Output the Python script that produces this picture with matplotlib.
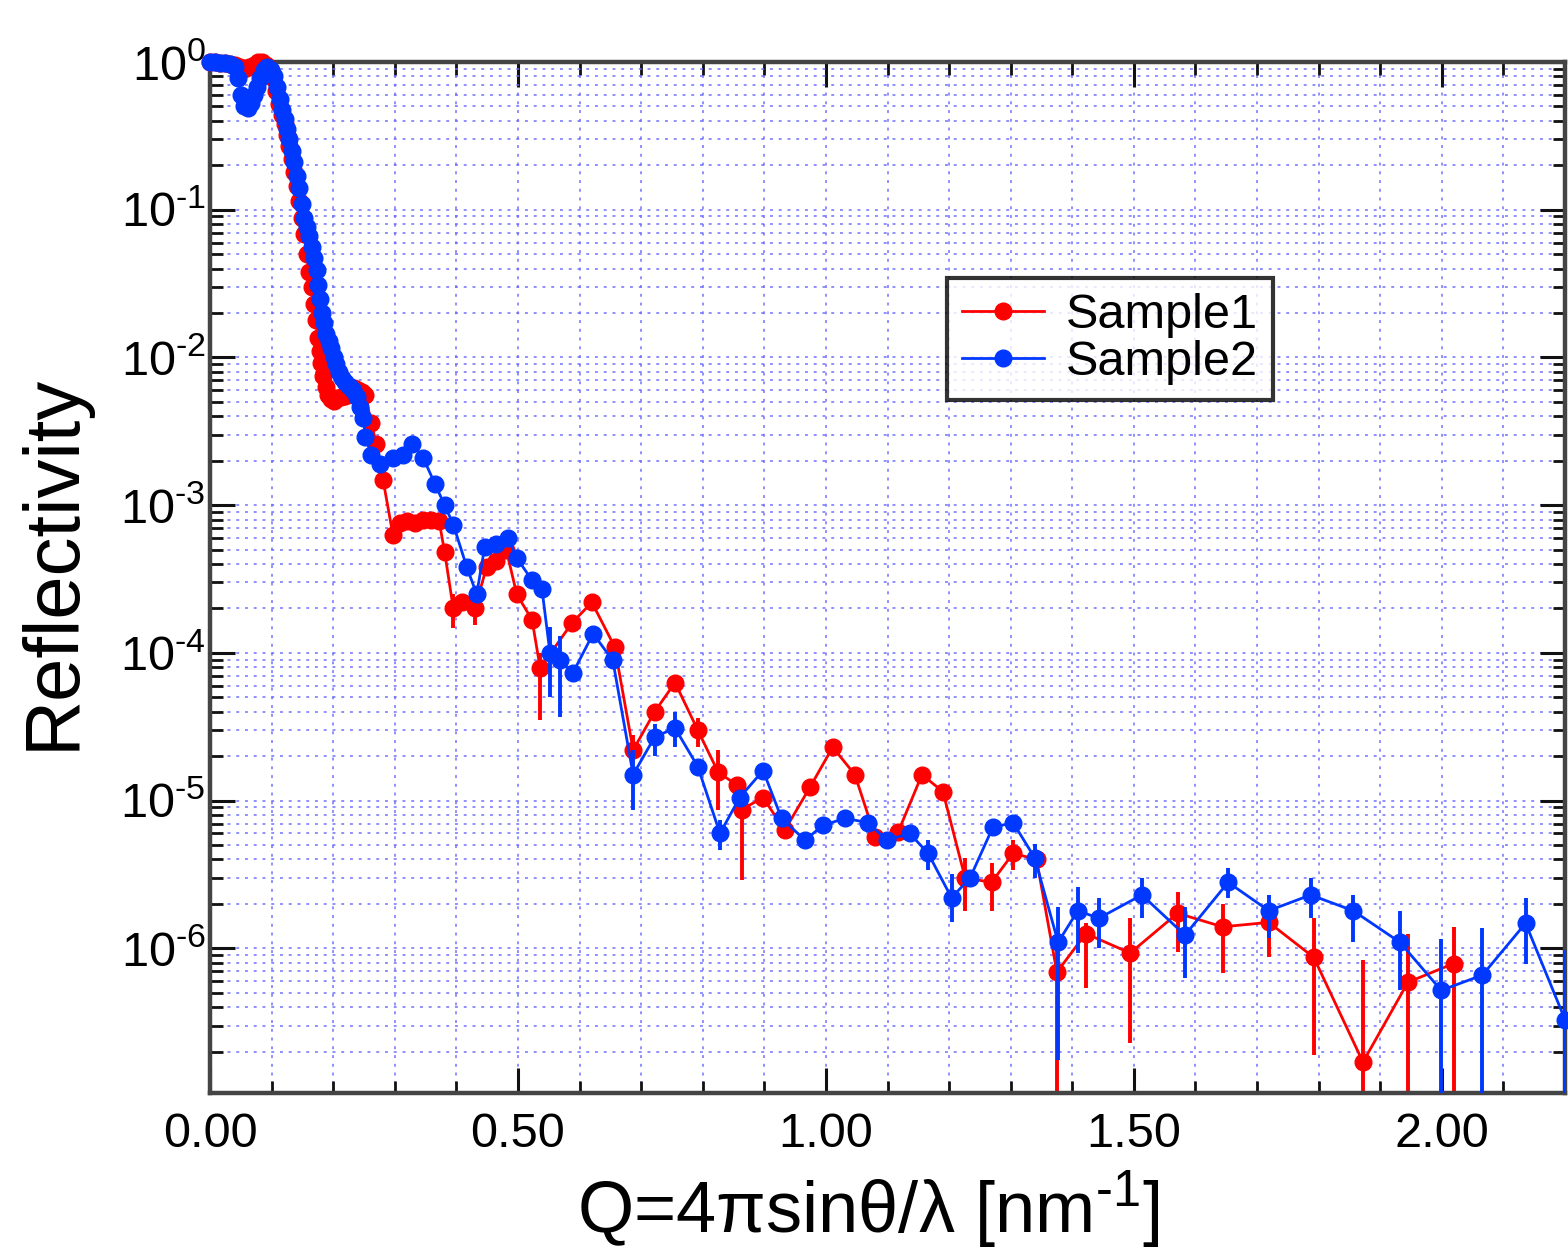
import matplotlib
matplotlib.use("Agg")
import numpy as np
import matplotlib.pyplot as plt
from matplotlib.ticker import MultipleLocator, LogLocator, FuncFormatter, NullFormatter, FormatStrFormatter

plt.rcParams['font.family'] = ['Liberation Sans', 'DejaVu Sans']
plt.rcParams['mathtext.fontset'] = 'custom'
plt.rcParams['mathtext.rm'] = 'Liberation Sans'
plt.rcParams['mathtext.it'] = 'Liberation Sans:italic'
plt.rcParams['mathtext.bf'] = 'Liberation Sans:bold'

# ---- data: Sample1 ----
s1_q = [0.000, 0.008, 0.016, 0.024, 0.032, 0.040, 0.048, 0.056, 0.064, 0.071,
        0.078, 0.085, 0.091, 0.097, 0.102, 0.107, 0.112, 0.117, 0.121, 0.125,
        0.129, 0.133, 0.137, 0.141, 0.145, 0.149, 0.153, 0.157, 0.161, 0.165,
        0.169, 0.172, 0.175, 0.178, 0.181, 0.184, 0.188, 0.192, 0.196, 0.201,
        0.206, 0.212, 0.219, 0.226, 0.233, 0.240, 0.246, 0.252, 0.262, 0.270,
        0.281, 0.297, 0.308, 0.320, 0.333, 0.346, 0.359, 0.372, 0.381, 0.395,
        0.409, 0.430, 0.449, 0.465, 0.481, 0.498, 0.523, 0.536, 0.588, 0.620,
        0.657, 0.687, 0.722, 0.755, 0.792, 0.825, 0.856, 0.863, 0.898, 0.933,
        0.974, 1.011, 1.047, 1.080, 1.117, 1.156, 1.190, 1.226, 1.269, 1.304,
        1.342, 1.375, 1.422, 1.494, 1.571, 1.644, 1.719, 1.792, 1.872, 1.945,
        2.019]
s1_r = [1.0, 1.0, 0.99, 0.98, 0.97, 0.96, 0.93, 0.90, 0.92, 0.96,
        1.0, 1.0, 0.95, 0.88, 0.78, 0.64, 0.52, 0.44, 0.38, 0.32,
        0.27, 0.22, 0.18, 0.145, 0.115, 0.088, 0.068, 0.050, 0.038, 0.030,
        0.023, 0.018, 0.0135, 0.011, 0.0092, 0.0075, 0.0063, 0.0056, 0.0052, 0.0051,
        0.0053, 0.0054, 0.0055, 0.0059, 0.0062, 0.0060, 0.0058, 0.0056, 0.0036, 0.0026,
        1.48e-3, 6.3e-4, 7.6e-4, 7.8e-4, 7.6e-4, 7.9e-4, 8.0e-4, 7.8e-4, 4.8e-4, 2.0e-4,
        2.2e-4, 2.0e-4, 3.8e-4, 4.2e-4, 5.0e-4, 2.5e-4, 1.67e-4, 7.9e-5, 1.6e-4, 2.2e-4,
        1.1e-4, 2.2e-5, 4.0e-5, 6.3e-5, 3.0e-5, 1.56e-5, 1.27e-5, 8.7e-6, 1.05e-5, 6.3e-6,
        1.23e-5, 2.3e-5, 1.5e-5, 5.7e-6, 6.1e-6, 1.5e-5, 1.15e-5, 3.0e-6, 2.8e-6, 4.4e-6,
        4.0e-6, 6.9e-7, 1.26e-6, 9.3e-7, 1.73e-6, 1.4e-6, 1.5e-6, 8.7e-7, 1.7e-7, 5.9e-7,
        7.9e-7]
s1_bar_q = [0.395, 0.430, 0.536, 0.687, 0.792, 0.825, 0.863, 1.226, 1.269, 1.304,
            1.375, 1.422, 1.494, 1.571, 1.644, 1.719, 1.792, 1.872, 1.945, 2.019]
s1_bar_lo = [1.48e-4, 1.55e-4, 3.5e-5, 1.9e-5, 2.3e-5, 8.7e-6, 2.9e-6, 1.8e-6, 1.8e-6, 3.4e-6,
             1e-8, 5.4e-7, 2.3e-7, 9.4e-7, 6.8e-7, 8.7e-7, 1.9e-7, 1e-8, 1e-8, 1e-8]
s1_bar_hi = [2.5e-4, 2.3e-4, 1.0e-4, 2.8e-5, 3.6e-5, 2.2e-5, 1.23e-5, 4.1e-6, 3.8e-6, 5.4e-6,
             1.0e-6, 1.48e-6, 1.6e-6, 2.4e-6, 2.0e-6, 1.6e-6, 1.6e-6, 8.3e-7, 1.26e-6, 1.4e-6]

# ---- data: Sample2 ----
s2_q = [0.000, 0.008, 0.016, 0.024, 0.032, 0.040, 0.046, 0.051, 0.056, 0.061,
        0.066, 0.071, 0.076, 0.081, 0.087, 0.093, 0.099, 0.104, 0.109, 0.113,
        0.117, 0.121, 0.125, 0.129, 0.133, 0.137, 0.141, 0.145, 0.149, 0.153,
        0.157, 0.161, 0.165, 0.169, 0.173, 0.176, 0.179, 0.182, 0.185, 0.189,
        0.193, 0.197, 0.201, 0.205, 0.209, 0.214, 0.219, 0.225, 0.232, 0.238,
        0.244, 0.249, 0.252, 0.262, 0.276, 0.297, 0.313, 0.328, 0.346, 0.365,
        0.381, 0.395, 0.417, 0.433, 0.446, 0.465, 0.484, 0.498, 0.523, 0.539,
        0.552, 0.568, 0.589, 0.622, 0.654, 0.687, 0.722, 0.755, 0.792, 0.828,
        0.860, 0.898, 0.928, 0.966, 0.995, 1.031, 1.068, 1.099, 1.136, 1.166,
        1.204, 1.234, 1.271, 1.304, 1.339, 1.377, 1.409, 1.443, 1.513, 1.583,
        1.653, 1.719, 1.787, 1.856, 1.932, 1.999, 2.066, 2.136, 2.200]
s2_r = [1.0, 1.0, 0.99, 0.98, 0.97, 0.93, 0.78, 0.60, 0.50, 0.49,
        0.53, 0.60, 0.68, 0.78, 0.88, 0.92, 0.88, 0.80, 0.68, 0.56,
        0.47, 0.41, 0.35, 0.30, 0.25, 0.21, 0.17, 0.14, 0.11, 0.088,
        0.076, 0.066, 0.056, 0.047, 0.039, 0.031, 0.025, 0.020, 0.017, 0.0145,
        0.013, 0.0115, 0.010, 0.0090, 0.0080, 0.0073, 0.0068, 0.0064, 0.0060, 0.0054,
        0.0046, 0.0039, 0.0029, 0.0022, 0.0019, 0.0021, 0.0022, 0.0026, 0.0021, 0.0014,
        0.0010, 7.4e-4, 3.8e-4, 2.5e-4, 5.2e-4, 5.5e-4, 6.0e-4, 4.4e-4, 3.1e-4, 2.7e-4,
        1.0e-4, 8.9e-5, 7.3e-5, 1.35e-4, 8.9e-5, 1.5e-5, 2.7e-5, 3.1e-5, 1.7e-5, 6.0e-6,
        1.05e-5, 1.6e-5, 7.6e-6, 5.4e-6, 6.8e-6, 7.6e-6, 7.1e-6, 5.4e-6, 6.0e-6, 4.4e-6,
        2.2e-6, 3.0e-6, 6.6e-6, 7.1e-6, 4.1e-6, 1.1e-6, 1.8e-6, 1.6e-6, 2.3e-6, 1.23e-6,
        2.8e-6, 1.8e-6, 2.3e-6, 1.8e-6, 1.1e-6, 5.2e-7, 6.6e-7, 1.48e-6, 3.3e-7]
s2_bar_q = [0.552, 0.568, 0.687, 0.722, 0.755, 0.828, 1.166, 1.204, 1.339, 1.377,
            1.409, 1.443, 1.513, 1.583, 1.653, 1.719, 1.787, 1.856, 1.932, 1.999,
            2.066, 2.136, 2.200]
s2_bar_lo = [5.0e-5, 3.7e-5, 8.7e-6, 2.0e-5, 2.3e-5, 4.6e-6, 3.4e-6, 1.5e-6, 3.0e-6, 1.75e-7,
             9.3e-7, 1.0e-6, 1.6e-6, 6.3e-7, 2.2e-6, 1.17e-6, 1.6e-6, 1.1e-6, 5.2e-7, 1e-8,
             1e-8, 7.8e-7, 1e-8]
s2_bar_hi = [1.5e-4, 1.3e-4, 2.2e-5, 3.3e-5, 4.0e-5, 7.4e-6, 5.4e-6, 3.2e-6, 5.1e-6, 1.9e-6,
             2.6e-6, 2.2e-6, 3.0e-6, 1.9e-6, 3.5e-6, 2.3e-6, 3.0e-6, 2.3e-6, 1.8e-6, 1.15e-6,
             1.38e-6, 2.2e-6, 9.8e-7]

x_ticks = [0.0, 0.5, 1.0, 1.5, 2.0]
labels = ["Sample1", "Sample2"]

RED = "#ff0000"
BLUE = "#0038ff"

fig = plt.figure(figsize=(15.68, 12.47), dpi=100)
ax = fig.add_axes([210 / 1568, 1 - 1093 / 1247, (1565 - 210) / 1568, (1093 - 62) / 1247])

ax.set_yscale("log")
ax.set_xlim(0.0, 2.2)
ax.set_ylim(1.05e-7, 1.0)

# grid (dotted, light blue)
ax.grid(True, which="both", axis="both", color="#6a6aff", alpha=0.75,
        linestyle=(0, (1.5, 3.0)), linewidth=1.4, zorder=0)

# error bars
ax.vlines(s1_bar_q, s1_bar_lo, s1_bar_hi, colors=RED, linewidth=2.8, zorder=2)
ax.vlines(s2_bar_q, s2_bar_lo, s2_bar_hi, colors=BLUE, linewidth=2.8, zorder=4)

l1, = ax.plot(s1_q, s1_r, "-o", color=RED, lw=2.0, ms=12, mec=RED,
              label=labels[0], zorder=3, clip_on=False)
l2, = ax.plot(s2_q, s2_r, "-o", color=BLUE, lw=2.0, ms=12, mec=BLUE,
              label=labels[1], zorder=5, clip_on=False)


def decade_label(v, pos):
    e = int(round(np.log10(v)))
    return "10$^{\\mathregular{%s}}$" % str(e).replace("-", "\u2010")


# axes, ticks
ax.xaxis.set_major_locator(MultipleLocator(0.5))
ax.xaxis.set_minor_locator(MultipleLocator(0.1))
ax.xaxis.set_major_formatter(FormatStrFormatter("%.2f"))
ax.set_xticks(x_ticks)
ax.yaxis.set_major_locator(LogLocator(base=10, numticks=20))
ax.yaxis.set_minor_locator(LogLocator(base=10, subs=range(2, 10), numticks=20))
ax.yaxis.set_major_formatter(FuncFormatter(decade_label))
ax.yaxis.set_minor_formatter(NullFormatter())

ax.tick_params(which="both", direction="in", top=True, right=True, color="#111111")
ax.tick_params(which="major", length=18, width=2.2, labelsize=35)
ax.tick_params(which="minor", length=9, width=2.0)
ax.tick_params(axis="x", which="major", pad=14)
ax.tick_params(axis="y", which="major", pad=3)

for sp in ax.spines.values():
    sp.set_color("#444444")
    sp.set_linewidth(3.2)

fig.text(0.034, 1 - 562 / 1247, "Reflectivity", rotation=90, fontsize=56,
         ha="center", va="center")
fig.text(868 / 1568, 1 - 1233 / 1247, "Q=4\u03c0sin\u03b8/\u03bb [nm$^{\\mathregular{\u20101}}$]",
         fontsize=52, ha="center", va="baseline")

leg = ax.legend(handles=[l1, l2], loc="upper left",
                bbox_to_anchor=((947 - 210) / (1565 - 210), (1093 - 278) / (1093 - 62)),
                borderaxespad=0, fontsize=35, frameon=True, fancybox=False,
                handlelength=1.7, handletextpad=0.45, labelspacing=0.05,
                borderpad=0.3)
leg.get_frame().set_edgecolor("black")
leg.get_frame().set_linewidth(3)
leg.set_zorder(10)

fig.savefig("out.png", dpi=100)
